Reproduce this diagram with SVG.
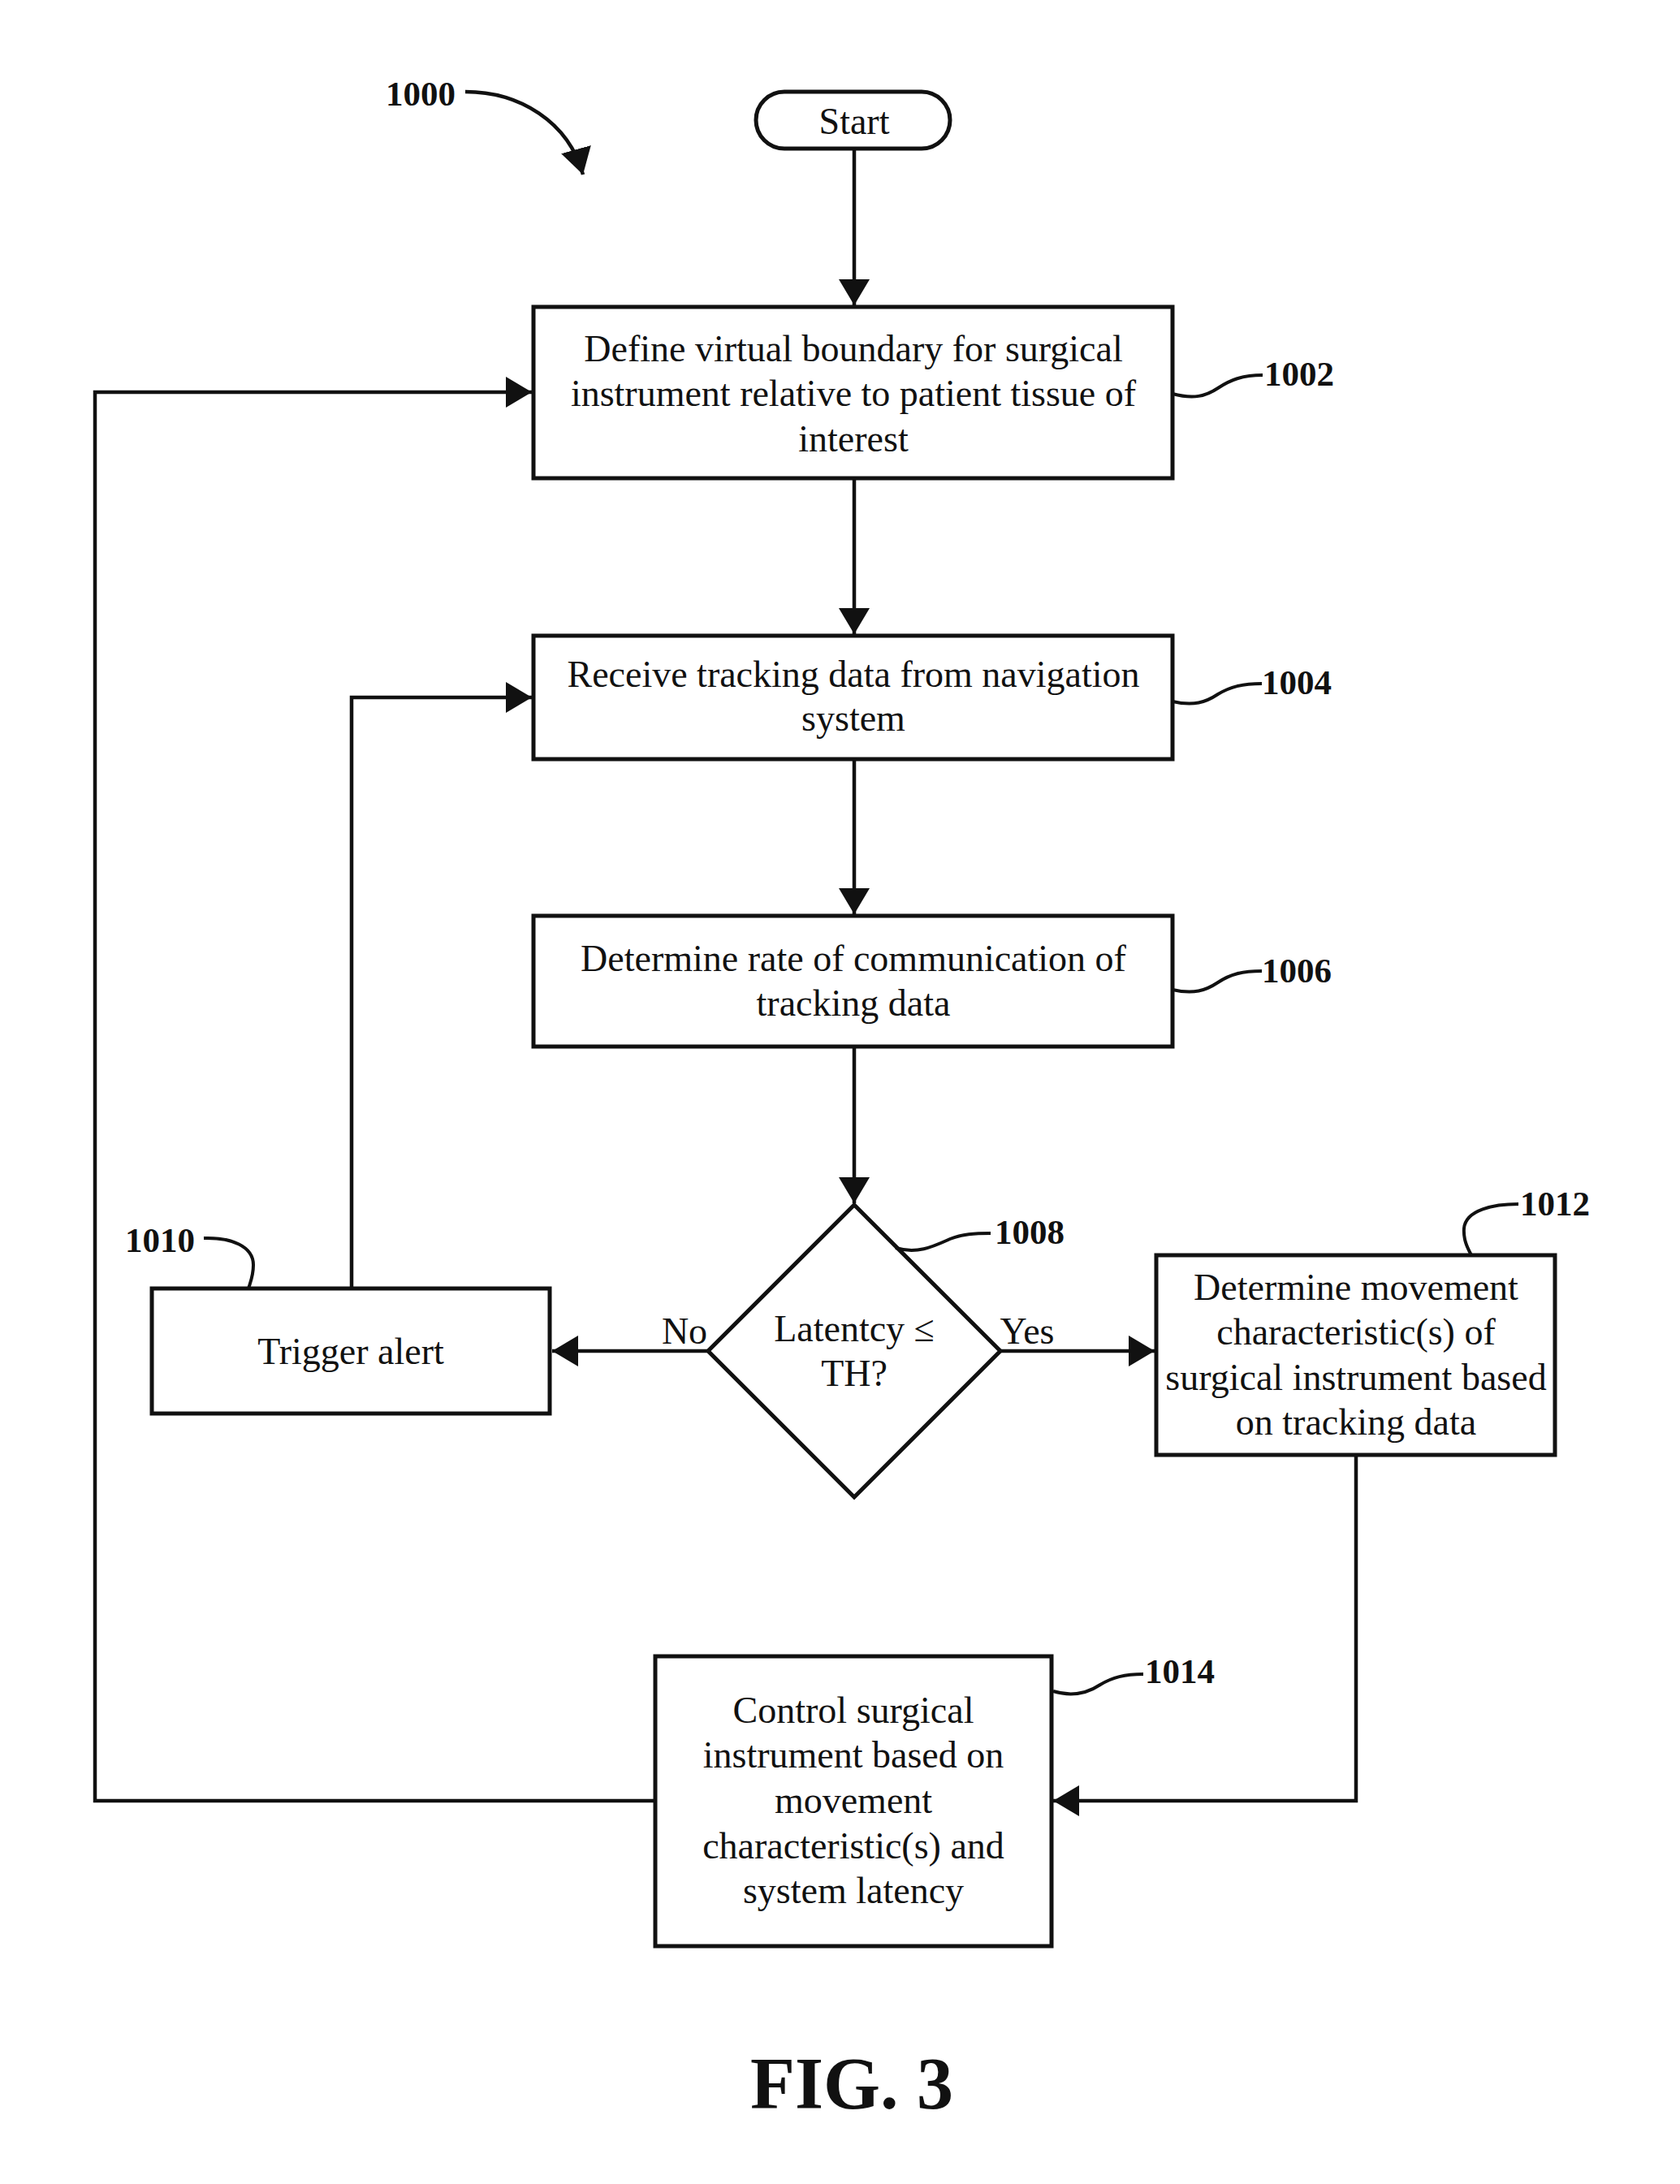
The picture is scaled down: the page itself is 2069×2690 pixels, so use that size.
<svg xmlns="http://www.w3.org/2000/svg" width="2069" height="2690" viewBox="0 0 2069 2690">
<style>
.box{fill:#fff;stroke:#111;stroke-width:5}
.t{font-family:"Liberation Serif","Times New Roman",serif;font-size:46px;fill:#111;text-anchor:middle}
.lbl{font-family:"Liberation Serif","Times New Roman",serif;font-size:43px;font-weight:bold;fill:#111}
.con{fill:none;stroke:#111;stroke-width:4.5}
.sq{fill:none;stroke:#111;stroke-width:4}
</style>
<defs>
<marker id="ah" markerUnits="userSpaceOnUse" viewBox="0 0 32 38" markerWidth="32" markerHeight="38" refX="32" refY="19" orient="auto">
<path d="M0,0 L32,19 L0,38 z" fill="#111"/>
</marker>
</defs>
<rect width="2069" height="2690" fill="#fff"/>

<g id="connectors">
<path class="con" d="M1052,183 V376" marker-end="url(#ah)"/>
<path class="con" d="M1052,589 V781" marker-end="url(#ah)"/>
<path class="con" d="M1052,935 V1126" marker-end="url(#ah)"/>
<path class="con" d="M1052,1289 V1482" marker-end="url(#ah)"/>
<path class="con" d="M872,1664 H680" marker-end="url(#ah)"/>
<path class="con" d="M1232,1664 H1422" marker-end="url(#ah)"/>
<path class="con" d="M433,1587 V859 H655" marker-end="url(#ah)"/>
<path class="con" d="M1670,1792 V2218 H1297" marker-end="url(#ah)"/>
<path class="con" d="M807,2218 H117 V483 H655" marker-end="url(#ah)"/>
<path class="con" d="M573,113 C640,113 700,150 718,215" marker-end="url(#ah)"/>
</g>

<g id="ref-1000"><text class="lbl" x="475" y="130">1000</text></g>

<g id="start">
<rect class="box" x="931" y="113" width="239" height="70" rx="35"/>
<text class="t" x="1052" y="165">Start</text>
</g>

<g id="n1002">
<rect class="box" x="657" y="378" width="787" height="211"/>
<text class="t" x="1051" y="445">Define virtual boundary for surgical</text>
<text class="t" x="1051" y="500">instrument relative to patient tissue of</text>
<text class="t" x="1051" y="556">interest</text>
<path class="sq" d="M1444,485 C1470,492 1485,488 1500,478 C1515,468 1530,462 1555,462"/>
<text class="lbl" x="1557" y="475">1002</text>
</g>

<g id="n1004">
<rect class="box" x="657" y="783" width="787" height="152"/>
<text class="t" x="1051" y="846">Receive tracking data from navigation</text>
<text class="t" x="1051" y="900">system</text>
<path class="sq" d="M1444,864 C1470,870 1485,865 1500,855 C1515,846 1530,842 1554,842"/>
<text class="lbl" x="1554" y="855">1004</text>
</g>

<g id="n1006">
<rect class="box" x="657" y="1128" width="787" height="161"/>
<text class="t" x="1051" y="1196">Determine rate of communication of</text>
<text class="t" x="1051" y="1251">tracking data</text>
<path class="sq" d="M1444,1219 C1470,1225 1485,1220 1500,1210 C1515,1200 1530,1196 1554,1196"/>
<text class="lbl" x="1554" y="1210">1006</text>
</g>

<g id="n1008">
<path class="box" d="M1052,1484 L1232,1664 L1052,1844 L872,1664 z"/>
<text class="t" x="1052" y="1652">Latentcy ≤</text>
<text class="t" x="1052" y="1707">TH?</text>
<path class="sq" d="M1103,1537 C1130,1545 1150,1535 1170,1526 C1185,1520 1200,1519 1220,1519"/>
<text class="lbl" x="1225" y="1532">1008</text>
<text class="t" x="843" y="1655">No</text>
<text class="t" x="1265" y="1655">Yes</text>
</g>

<g id="n1010">
<rect class="box" x="187" y="1587" width="490" height="154"/>
<text class="t" x="432" y="1680">Trigger alert</text>
<path class="sq" d="M251,1525 C285,1524 312,1535 312,1558 C312,1572 308,1580 306,1587"/>
<text class="lbl" x="154" y="1542">1010</text>
</g>

<g id="n1012">
<rect class="box" x="1424" y="1546" width="491" height="246"/>
<text class="t" x="1670" y="1601">Determine movement</text>
<text class="t" x="1670" y="1656">characteristic(s) of</text>
<text class="t" x="1670" y="1712">surgical instrument based</text>
<text class="t" x="1670" y="1767">on tracking data</text>
<path class="sq" d="M1870,1483 C1840,1483 1805,1490 1803,1513 C1802,1528 1808,1538 1812,1546"/>
<text class="lbl" x="1872" y="1497">1012</text>
</g>

<g id="n1014">
<rect class="box" x="807" y="2040" width="488" height="357"/>
<text class="t" x="1051" y="2122">Control surgical</text>
<text class="t" x="1051" y="2177">instrument based on</text>
<text class="t" x="1051" y="2233">movement</text>
<text class="t" x="1051" y="2289">characteristic(s) and</text>
<text class="t" x="1051" y="2344">system latency</text>
<path class="sq" d="M1297,2083 C1320,2090 1340,2085 1355,2075 C1370,2066 1385,2062 1408,2062"/>
<text class="lbl" x="1410" y="2073">1014</text>
</g>

<g id="caption">
<text x="1049" y="2597" text-anchor="middle" font-family="Liberation Serif, Times New Roman, serif" font-weight="bold" font-size="90" fill="#111">FIG. 3</text>
</g>
</svg>
